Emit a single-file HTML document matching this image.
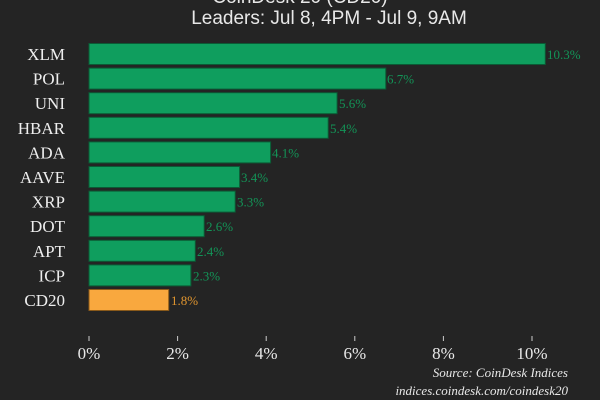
<!DOCTYPE html><html><head><style>body{margin:0;background:#242424;}svg{display:block}</style></head><body>
<svg width="600" height="400" xmlns="http://www.w3.org/2000/svg" font-family="Liberation Serif, serif">
<rect width="600" height="400" fill="#242424"/>
<g font-family="Liberation Sans, sans-serif" fill="#e8e8e8" font-size="19" text-anchor="middle">
<text x="300" y="3">CoinDesk 20 (CD20)</text>
<text x="329" y="24">Leaders: Jul 8, 4PM - Jul 9, 9AM</text>
</g>
<g stroke-width="1">
<rect x="89" y="43.5" width="456.3" height="21" fill="#0f9e5e" stroke="#0b5a35"/>
<rect x="89" y="68.1" width="296.8" height="21" fill="#0f9e5e" stroke="#0b5a35"/>
<rect x="89" y="92.7" width="248.1" height="21" fill="#0f9e5e" stroke="#0b5a35"/>
<rect x="89" y="117.3" width="239.2" height="21" fill="#0f9e5e" stroke="#0b5a35"/>
<rect x="89" y="141.9" width="181.6" height="21" fill="#0f9e5e" stroke="#0b5a35"/>
<rect x="89" y="166.5" width="150.6" height="21" fill="#0f9e5e" stroke="#0b5a35"/>
<rect x="89" y="191.1" width="146.2" height="21" fill="#0f9e5e" stroke="#0b5a35"/>
<rect x="89" y="215.7" width="115.2" height="21" fill="#0f9e5e" stroke="#0b5a35"/>
<rect x="89" y="240.3" width="106.3" height="21" fill="#0f9e5e" stroke="#0b5a35"/>
<rect x="89" y="264.9" width="101.9" height="21" fill="#0f9e5e" stroke="#0b5a35"/>
<rect x="89" y="289.5" width="79.7" height="21" fill="#f9a83e" stroke="#8a5a1a"/>
</g>
<g fill="#eeeeee" font-size="17" text-anchor="end">
<text x="65" y="60">XLM</text>
<text x="65" y="84.6">POL</text>
<text x="65" y="109.2">UNI</text>
<text x="65" y="133.8">HBAR</text>
<text x="65" y="158.4">ADA</text>
<text x="65" y="183">AAVE</text>
<text x="65" y="207.6">XRP</text>
<text x="65" y="232.2">DOT</text>
<text x="65" y="256.8">APT</text>
<text x="65" y="281.4">ICP</text>
<text x="65" y="306">CD20</text>
</g>
<g fill="#139457" font-size="13">
<text x="547" y="59">10.3%</text>
<text x="387" y="83.6">6.7%</text>
<text x="339" y="108.2">5.6%</text>
<text x="330" y="132.8">5.4%</text>
<text x="272" y="157.4">4.1%</text>
<text x="241" y="182">3.4%</text>
<text x="237" y="206.6">3.3%</text>
<text x="206" y="231.2">2.6%</text>
<text x="197" y="255.8">2.4%</text>
<text x="193" y="280.4">2.3%</text>
<text x="171" y="305" fill="#e0952f">1.8%</text>
</g>
<g stroke="#ccc">
<line x1="89" x2="89" y1="336" y2="341"/><line x1="177.6" x2="177.6" y1="336" y2="341"/><line x1="266.2" x2="266.2" y1="336" y2="341"/><line x1="354.8" x2="354.8" y1="336" y2="341"/><line x1="443.4" x2="443.4" y1="336" y2="341"/><line x1="532" x2="532" y1="336" y2="341"/>
</g>
<g fill="#e8e8e8" font-size="17" text-anchor="middle">
<text x="89" y="359">0%</text><text x="177.6" y="359">2%</text><text x="266.2" y="359">4%</text><text x="354.8" y="359">6%</text><text x="443.4" y="359">8%</text><text x="532" y="359">10%</text>
</g>
<g fill="#e8e8e8" font-size="13" font-style="italic" text-anchor="end">
<text x="568" y="377">Source: CoinDesk Indices</text>
<text x="568" y="395">indices.coindesk.com/coindesk20</text>
</g>
</svg></body></html>
